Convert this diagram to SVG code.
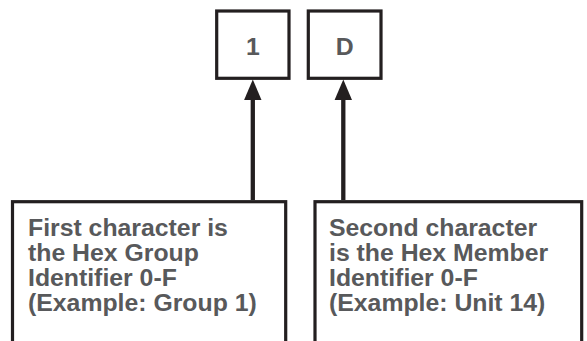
<svg xmlns="http://www.w3.org/2000/svg" width="587" height="341" viewBox="0 0 587 341">
<defs>
<style>
.box{fill:#ffffff;stroke:#231f20;stroke-width:3.2}
.lbl{font-family:"Liberation Sans",Arial,sans-serif;font-weight:bold;fill:#58595b;font-size:24.8px}
.conn{stroke:#231f20;stroke-width:4.3;fill:none}
.head{fill:#231f20}
</style>
</defs>
<rect width="587" height="341" fill="#ffffff"/>
<g id="node-1">
<rect class="box" x="216.7" y="11" width="72.3" height="67.3"/>
<text class="lbl" x="252.8" y="54.5" text-anchor="middle">1</text>
</g>
<g id="node-D">
<rect class="box" x="308.3" y="11" width="72.7" height="67.3"/>
<text class="lbl" x="344.6" y="54.5" text-anchor="middle">D</text>
</g>
<g id="node-group">
<rect class="box" x="12.5" y="201.7" width="273.2" height="150"/>
<text class="lbl" x="28" y="236">First character is</text>
<text class="lbl" x="28" y="261">the Hex Group</text>
<text class="lbl" x="28" y="286">Identifier 0-F</text>
<text class="lbl" x="28" y="311">(Example: Group 1)</text>
</g>
<g id="node-member">
<rect class="box" x="315" y="201.7" width="266.7" height="150"/>
<text class="lbl" x="329" y="236">Second character</text>
<text class="lbl" x="329" y="261">is the Hex Member</text>
<text class="lbl" x="329" y="286">Identifier 0-F</text>
<text class="lbl" x="329" y="311">(Example: Unit 14)</text>
</g>
<g id="connectors">
<line class="conn" x1="252.8" y1="200" x2="252.8" y2="98"/>
<polygon class="head" points="252.8,79.5 261.5,100 244.1,100"/>
<line class="conn" x1="343.3" y1="200" x2="343.3" y2="98"/>
<polygon class="head" points="343.3,79.5 352,100 334.6,100"/>
</g>
</svg>
